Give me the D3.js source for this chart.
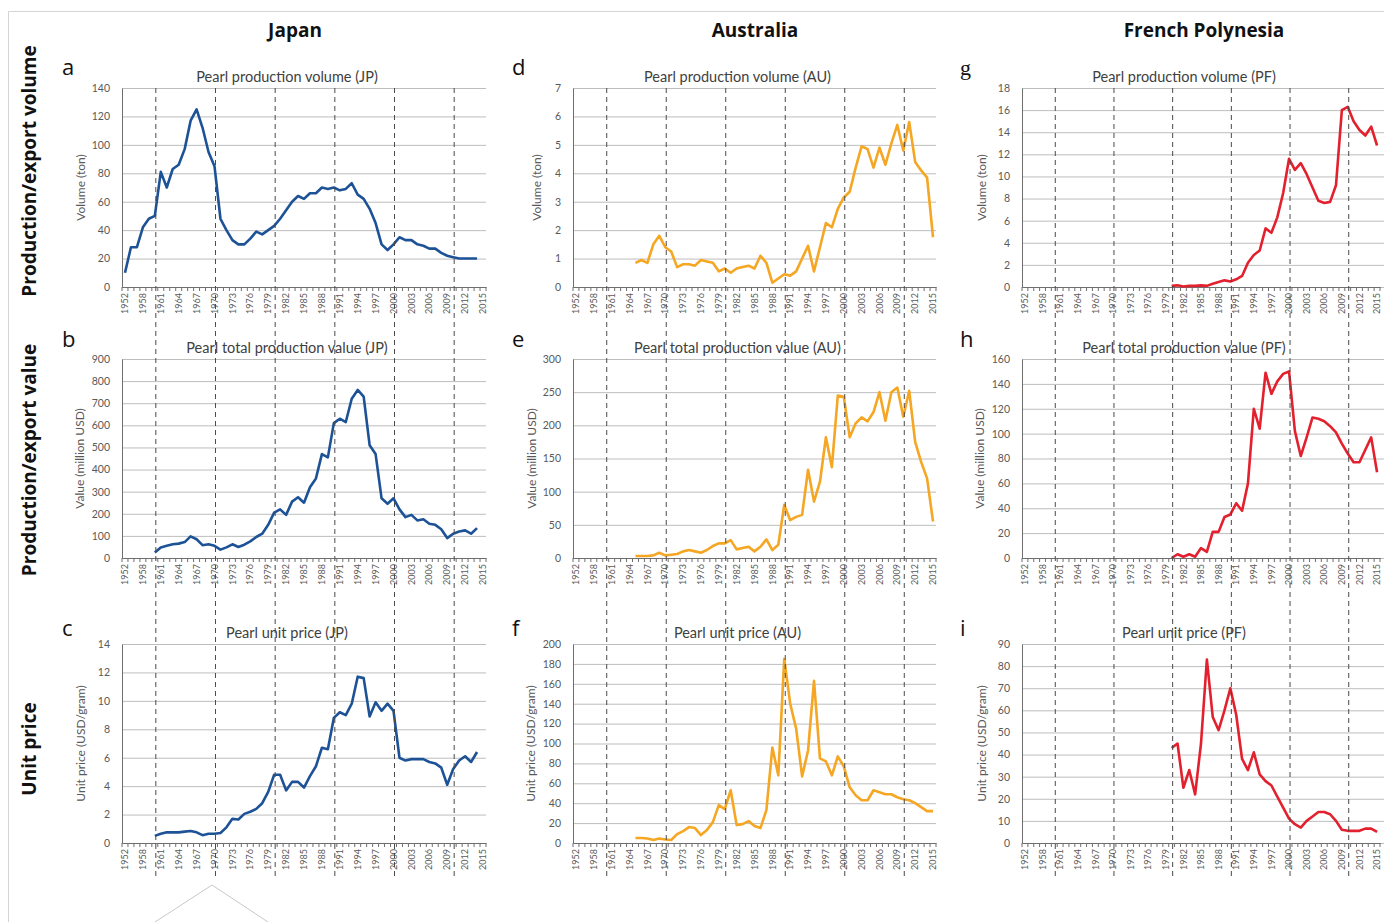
<!DOCTYPE html>
<html>
<head>
<meta charset="utf-8">
<script src="https://cdnjs.cloudflare.com/ajax/libs/d3/7.8.5/d3.min.js"></script>
<style>
  body { margin: 0; background: #fff; }
  svg { display: block; font-family: Lato, "Open Sans", sans-serif; }
</style>
</head>
<body>
<div id="chart"></div>
<script>
// categories on the x axis (one per data point)
const categories = ["1952","1954","1956","1958","1959","1960","1961","1962","1963","1964",
  "1965","1966","1967","1968","1969","1970","1971","1972","1973","1974",
  "1975","1976","1977","1978","1979","1980","1981","1982","1983","1984",
  "1985","1986","1987","1988","1989","1990","1991","1992","1993","1994",
  "1995","1996","1997","1998","1999","2000","2001","2002","2003","2004",
  "2005","2006","2007","2008","2009","2010","2011","2012","2013","2014","2015"];

const tickLabels = ["1952","1958","1961","1964","1967","1970","1973","1976","1979","1982",
  "1985","1988","1991","1994","1997","2000","2003","2006","2009","2012","2015"];

const decadeLines = ["1960","1970","1980","1990","2000","2010"];

const _ = null;

// Japan
const jpVolume = [10,28,28,42,48,50,81,70,83,86, 97,117,125,112,95,85,48,40,33,30,
  30,34,39,37,40,43,48,54,60,64, 62,66,66,70,69,70,68,69,73,65,
  62,55,45,30,26,30,35,33,33,30, 29,27,27,24,22,21,20,20,20,20, _];
const jpValue = [_,_,_,_,_,25,48,55,62,65, 72,98,85,58,62,55,38,48,62,50,
  60,75,95,110,150,205,220,195,255,275, 250,320,360,470,455,610,630,615,720,760,
  730,510,470,270,245,270,220,185,195,170, 175,155,150,130,90,110,120,125,110,135, _];
const jpPrice = [_,_,_,_,_,0.5,0.65,0.75,0.75,0.75, 0.8,0.85,0.75,0.55,0.65,0.65,0.7,1.1,1.7,1.65,
  2.05,2.2,2.4,2.8,3.6,4.8,4.8,3.7,4.3,4.3, 3.9,4.7,5.4,6.7,6.6,8.8,9.2,9.0,9.8,11.7,
  11.6,8.9,9.9,9.3,9.8,9.3,6.0,5.8,5.9,5.9, 5.9,5.7,5.6,5.3,4.1,5.2,5.8,6.1,5.7,6.4, _];

// Australia
const auVolume = [_,_,_,_,_,_,_,_,_,_,
  0.85,0.95,0.85,1.5,1.8,1.4,1.25,0.7,0.8,0.8, 0.75,0.95,0.9,0.85,0.55,0.65,0.5,0.65,0.7,0.75,
  0.65,1.1,0.85,0.15,0.3,0.45,0.4,0.55,1.0,1.45, 0.55,1.4,2.25,2.1,2.75,3.15,3.35,4.2,4.95,4.85,
  4.2,4.9,4.3,5.05,5.7,4.8,5.8,4.4,4.1,3.85, 1.75];
const auValue = [_,_,_,_,_,_,_,_,_,_,
  3,3,3,4,8,4,5,6,10,12, 10,8,12,18,22,22,27,13,15,17,
  10,17,28,12,20,80,57,62,65,133, 85,115,182,137,245,243,182,203,212,206,
  220,250,207,250,257,213,252,175,145,120, 55];
const auPrice = [_,_,_,_,_,_,_,_,_,_,
  5,5,4.5,3,4.5,3.5,3,9,12,16, 15,8,13,21,38,34,53,18,19,22,
  17,15,33,96,68,185,140,115,67,93, 163,85,82,68,87,77,56,48,43,43,
  53,51,49,49,46,44,43,40,36,32, 32];

// French Polynesia
const pfVolume = [_,_,_,_,_,_,_,_,_,_, _,_,_,_,_,_,_,_,_,_, _,_,_,_,_,
  0.1,0.15,0.05,0.1,0.1,0.15,0.1,0.3,0.45,0.6, 0.5,0.7,1.0,2.2,2.9,3.3,5.3,4.9,6.3,8.5,
  11.6,10.6,11.2,10.2,9.0,7.8,7.6,7.7,9.2,16.0, 16.3,15.0,14.2,13.7,14.5,12.8];
const pfValue = [_,_,_,_,_,_,_,_,_,_, _,_,_,_,_,_,_,_,_,_, _,_,_,_,_,
  0,3,1,3,1,8,5,21,21,33, 35,44,38,60,120,104,149,132,142,148,
  150,102,82,97,113,112,110,106,101,92, 84,77,77,87,97,69];
const pfPrice = [_,_,_,_,_,_,_,_,_,_, _,_,_,_,_,_,_,_,_,_, _,_,_,_,_,
  43,45,25,33,22,45,83,57,51,60, 70,58,38,33,41,31,28,26,21,16,
  11,8.5,7,10,12,14,14,13,10,6, 5.5,5.5,5.5,6.5,6.5,5];

const countries = ["Japan", "Australia", "French Polynesia"];
const codes = ["JP", "AU", "PF"];
const rowLabels = ["Production/export volume", "Production/export value", "Unit price"];
const titleStems = ["Pearl production volume", "Pearl total production value", "Pearl unit price"];
const yTitles = ["Volume (ton)", "Value (million USD)", "Unit price (USD/gram)"];
const letters = [["a","b","c"], ["d","e","f"], ["g","h","i"]];

const W = 1384, H = 922;
const plotH = 199;
const lineColors = ["#1d5296", "#f5a623", "#e3202d"];

const cols = [
  { left: 122, width: 364, header: 295, letterX: 62 },
  { left: 573, width: 363, header: 755, letterX: 512 },
  { left: 1022, width: 358, header: 1204, letterX: 960 }
];
const rows = [
  { top: 88, letterY: 75, labelY: 171 },
  { top: 359, letterY: 347, labelY: 460 },
  { top: 644, letterY: 636, labelY: 749 }
];

const panels = [
  { col: 0, row: 0, values: jpVolume, yMax: 140, yStep: 20, yOff: 37 },
  { col: 0, row: 1, values: jpValue, yMax: 900, yStep: 100, yOff: 38 },
  { col: 0, row: 2, values: jpPrice, yMax: 14, yStep: 2, yOff: 37 },
  { col: 1, row: 0, values: auVolume, yMax: 7, yStep: 1, yOff: 32 },
  { col: 1, row: 1, values: auValue, yMax: 300, yStep: 50, yOff: 37 },
  { col: 1, row: 2, values: auPrice, yMax: 200, yStep: 20, yOff: 38 },
  { col: 2, row: 0, values: pfVolume, yMax: 18, yStep: 2, yOff: 36 },
  { col: 2, row: 1, values: pfValue, yMax: 160, yStep: 20, yOff: 38 },
  { col: 2, row: 2, values: pfPrice, yMax: 90, yStep: 10, yOff: 36 }
];

const svg = d3.select("#chart").append("svg")
  .attr("width", W)
  .attr("height", H);

// frame lines and the little shape bottom left
svg.append("path")
  .attr("d", "M8.5,922V11.5H1384")
  .attr("fill", "none")
  .attr("stroke", "#d4d4d4");
svg.append("path")
  .attr("d", "M155,922L212,885L268,922")
  .attr("fill", "none")
  .attr("stroke", "#c8c8c8");

// column headers
svg.selectAll("text.header")
  .data(countries)
  .enter().append("text")
  .attr("class", "header")
  .attr("x", (d, i) => cols[i].header)
  .attr("y", 37)
  .attr("text-anchor", "middle")
  .attr("font-family", "'Open Sans', sans-serif")
  .attr("font-size", 19)
  .attr("font-weight", "bold")
  .attr("fill", "#111")
  .text(d => d);

// row labels
svg.selectAll("text.rowlabel")
  .data(rowLabels)
  .enter().append("text")
  .attr("class", "rowlabel")
  .attr("transform", (d, i) => "translate(36," + rows[i].labelY + ") rotate(-90)")
  .attr("text-anchor", "middle")
  .attr("font-family", "'Open Sans', sans-serif")
  .attr("font-size", 19)
  .attr("font-weight", "bold")
  .attr("fill", "#111")
  .text(d => d);

function drawPanel(p) {
  const c = cols[p.col], r = rows[p.row];
  const bottom = r.top + plotH;

  const x = d3.scaleBand()
    .domain(categories)
    .range([c.left, c.left + c.width]);
  const y = d3.scaleLinear()
    .domain([0, p.yMax])
    .range([bottom, r.top]);
  const yTicks = d3.range(0, p.yMax + p.yStep / 2, p.yStep);
  const gridW = p.col === 2 ? W - c.left : c.width;

  const g = svg.append("g");

  // horizontal grid
  g.append("g")
    .attr("transform", "translate(" + c.left + ",0)")
    .call(d3.axisLeft(y).tickValues(yTicks).tickSize(-gridW).tickFormat(""))
    .call(s => s.select(".domain").remove())
    .selectAll("line")
    .attr("stroke", "#bdbdbd");

  // y axis
  const ya = g.append("g")
    .attr("transform", "translate(" + c.left + ",0)")
    .call(d3.axisLeft(y).tickValues(yTicks).tickFormat(d3.format("~g"))
      .tickSize(0).tickSizeOuter(0).tickPadding(12));
  ya.select(".domain").attr("stroke", "#6e6e6e");
  ya.selectAll("text")
    .attr("font-family", "Lato, sans-serif")
    .attr("font-size", 10.5)
    .attr("fill", "#595959");

  // x axis
  const xa = g.append("g")
    .attr("transform", "translate(0," + bottom + ")")
    .call(d3.axisBottom(x).tickValues(tickLabels).tickSize(0).tickSizeOuter(0).tickPadding(0));
  xa.select(".domain").attr("stroke", "#6e6e6e");
  xa.selectAll("text")
    .attr("transform", "rotate(-90)")
    .attr("text-anchor", "end")
    .attr("x", -6)
    .attr("y", 0)
    .attr("dy", "0.35em")
    .attr("font-family", "Lato, sans-serif")
    .attr("font-size", 9)
    .attr("fill", "#595959");

  // small ticks between categories
  const edges = categories.map(d => x(d)).concat([x.range()[1]]);
  g.selectAll("line.minor")
    .data(edges)
    .enter().append("line")
    .attr("class", "minor")
    .attr("x1", d => d).attr("x2", d => d)
    .attr("y1", bottom).attr("y2", bottom + 4)
    .attr("stroke", "#6e6e6e");

  // y title
  g.append("text")
    .attr("transform", "translate(" + (c.left - p.yOff) + "," + (r.top + plotH / 2) + ") rotate(-90)")
    .attr("text-anchor", "middle")
    .attr("font-size", 12)
    .attr("fill", "#595959")
    .text(yTitles[p.row]);

  // panel title
  g.append("text")
    .attr("x", c.left + c.width / 2 - 17)
    .attr("y", r.top - 6)
    .attr("text-anchor", "middle")
    .attr("font-size", 14.5)
    .attr("fill", "#404040")
    .text(titleStems[p.row] + " (" + codes[p.col] + ")");

  // panel letter
  g.append("text")
    .attr("x", c.letterX)
    .attr("y", r.letterY)
    .attr("font-size", 22)
    .attr("font-family", p.col === 2 && p.row === 0 ? "'Liberation Serif', serif" : "'Open Sans', sans-serif")
    .attr("fill", "#111")
    .text(letters[p.col][p.row]);

  // data line
  const pts = categories.map((d, i) => ({ c: d, v: p.values[i] }));
  g.append("path")
    .datum(pts)
    .attr("fill", "none")
    .attr("stroke", lineColors[p.col])
    .attr("stroke-width", 2.6)
    .attr("stroke-linejoin", "round")
    .attr("d", d3.line()
      .defined(d => d.v != null)
      .x(d => x(d.c) + x.bandwidth() / 2)
      .y(d => y(d.v)));
}

panels.forEach(drawPanel);

// dashed decade lines run through all three rows of a column
cols.forEach(c => {
  const x = d3.scaleBand().domain(categories).range([c.left, c.left + c.width]);
  svg.append("g")
    .selectAll("line")
    .data(decadeLines)
    .enter().append("line")
    .attr("x1", d => x(d) + x.bandwidth() / 2 + 1)
    .attr("x2", d => x(d) + x.bandwidth() / 2 + 1)
    .attr("y1", rows[0].top)
    .attr("y2", 879)
    .attr("stroke", "#4a4a4a")
    .attr("stroke-width", 1)
    .attr("stroke-dasharray", "5,4");
});
</script>
</body>
</html>
